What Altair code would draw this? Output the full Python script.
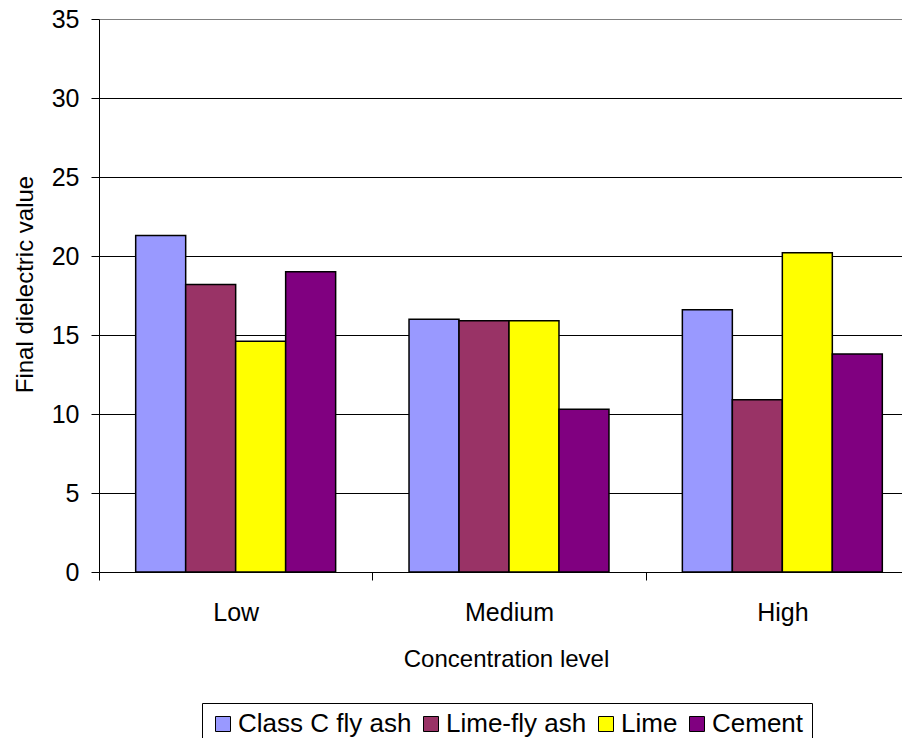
import altair as alt
import pandas as pd

concentration = ["Low", "Medium", "High"]
series = ["Class C fly ash", "Lime-fly ash", "Lime", "Cement"]
class_c = [21.3, 16.0, 16.6]
lime_fly = [18.2, 15.9, 10.9]
lime = [14.6, 15.9, 20.2]
cement = [19.0, 10.3, 13.8]
colors = ["#9999FF", "#993366", "#FFFF00", "#800080"]
y_ticks = [0, 5, 10, 15, 20, 25, 30, 35]

rows = []
for s, vals in zip(series, [class_c, lime_fly, lime, cement]):
    for lvl, v in zip(concentration, vals):
        rows.append({"level": lvl, "series": s, "value": v})
df = pd.DataFrame(rows)

FONT = "Liberation Sans"

chart = alt.Chart(df).mark_bar(stroke="black", strokeWidth=1.5).encode(
    x=alt.X(
        "level:N",
        sort=concentration,
        scale=alt.Scale(domain=concentration, range=[0, 820], paddingInner=0, paddingOuter=0),
        axis=alt.Axis(
            title="Concentration level",
            tickBand="extent",
            labelAngle=0,
            tickSize=8,
            labelPadding=40,
            labelBaseline="alphabetic",
            titleBaseline="alphabetic",
            titleAlign="center",
            titleX=407,
            titleY=94,
        ),
    ),
    xOffset=alt.XOffset(
        "series:N",
        sort=series,
        scale=alt.Scale(domain=series, paddingInner=0, paddingOuter=0.734),
    ),
    y=alt.Y(
        "value:Q",
        scale=alt.Scale(domain=[0, 35], nice=False),
        axis=alt.Axis(
            title="Final dielectric value",
            values=y_ticks,
            tickSize=8,
            labelPadding=12,
            grid=True,
            gridColor=alt.condition("datum.value === 35", alt.value("#808080"), alt.value("black")),
            gridWidth=1,
            titleAngle=270,
            titleAlign="center",
            titleBaseline="alphabetic",
            titleX=-67,
            titleY=265,
        ),
    ),
    color=alt.Color(
        "series:N",
        sort=series,
        scale=alt.Scale(domain=series, range=colors),
        legend=alt.Legend(
            orient="none",
            legendX=103,
            legendY=684,
            direction="horizontal",
            title=None,
            strokeColor="black",
            fillColor="white",
            padding=8,
            symbolType="square",
            symbolSize=225,
            symbolStrokeColor="black",
            symbolStrokeWidth=1,
            symbolOpacity=1,
            labelFontSize=26,
            labelFont=FONT,
            labelColor="black",
            labelOffset=2,
            columnPadding=6,
            labelLimit=400,
        ),
    ),
).properties(
    width=803,
    height=553,
    padding={"left": 91, "top": 11, "right": 0, "bottom": 166},
    autosize="none",
).configure_axis(
    domainColor="black",
    domainWidth=1,
    tickColor="black",
    tickWidth=1,
    labelColor="black",
    labelFont=FONT,
    labelFontSize=25,
    titleColor="black",
    titleFont=FONT,
    titleFontSize=24,
    titleFontWeight="normal",
).configure_view(strokeWidth=0)

chart.save("out.html", embed_options={"renderer": "svg", "actions": False})
